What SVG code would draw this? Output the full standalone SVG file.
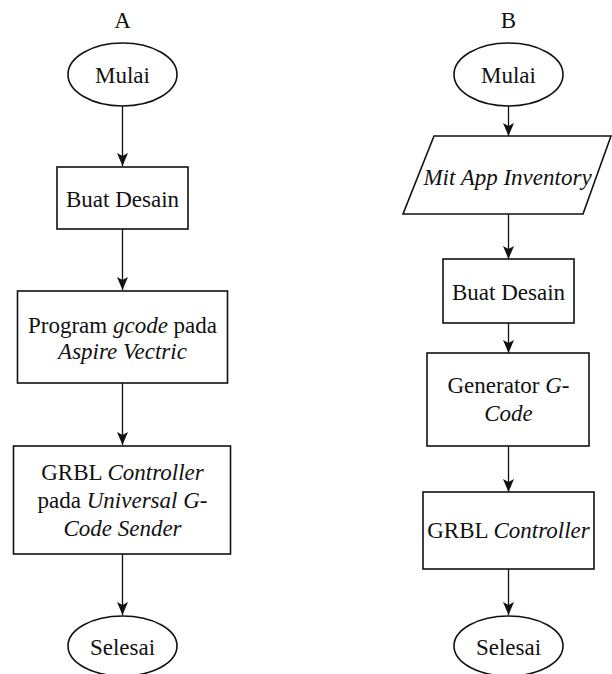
<svg xmlns="http://www.w3.org/2000/svg" width="612" height="674" viewBox="0 0 612 674">
<style>
text{font-size:23px;fill:#111;text-anchor:middle}
.i{font-style:italic}
.s{fill:#fff;stroke:#111;stroke-width:1.6}
.c{stroke:#111;stroke-width:1.3;fill:none}
</style>
<defs>
<marker id="ah" markerWidth="13" markerHeight="11" refX="13" refY="5.5" orient="auto" markerUnits="userSpaceOnUse" viewBox="0 0 13 11">
<path d="M0,0 L13,5.5 L0,11 L3,5.5 Z" fill="#111"/>
</marker>
</defs>
<rect width="612" height="674" fill="#fff"/>
<g font-family="'Liberation Serif', 'Times New Roman', Times, serif">
<text x="122.5" y="28">A</text>
<text x="508.5" y="28">B</text>
<g id="connectors">
<path class="c" d="M122.5,106 V166" marker-end="url(#ah)"/>
<path class="c" d="M122.5,229 V290" marker-end="url(#ah)"/>
<path class="c" d="M122.5,383 V445" marker-end="url(#ah)"/>
<path class="c" d="M122.5,554 V615" marker-end="url(#ah)"/>
<path class="c" d="M508.5,106 V136" marker-end="url(#ah)"/>
<path class="c" d="M508.5,214 V259" marker-end="url(#ah)"/>
<path class="c" d="M508.5,323 V353" marker-end="url(#ah)"/>
<path class="c" d="M508.5,446 V492" marker-end="url(#ah)"/>
<path class="c" d="M508.5,569 V615" marker-end="url(#ah)"/>
</g>
<g id="a-start">
<ellipse class="s" cx="122.5" cy="74.5" rx="54.5" ry="31.5"/>
<text x="122.5" y="83">Mulai</text>
</g>
<g id="a-design">
<rect class="s" x="57" y="167" width="131" height="62"/>
<text x="122.5" y="207">Buat Desain</text>
</g>
<g id="a-gcode">
<rect class="s" x="17.5" y="291" width="210" height="92"/>
<text x="122.5" y="333">Program <tspan class="i">gcode</tspan> pada</text>
<text x="122.5" y="359" class="i">Aspire Vectric</text>
</g>
<g id="a-grbl">
<rect class="s" x="13.5" y="446" width="217" height="108"/>
<text x="122.5" y="480">GRBL <tspan class="i">Controller</tspan></text>
<text x="122.5" y="508">pada <tspan class="i">Universal G-</tspan></text>
<text x="122.5" y="536" class="i">Code Sender</text>
</g>
<g id="a-end">
<ellipse class="s" cx="122.5" cy="646" rx="54.5" ry="30"/>
<text x="122.5" y="655">Selesai</text>
</g>
<g id="b-start">
<ellipse class="s" cx="508.5" cy="74.5" rx="54.5" ry="31.5"/>
<text x="508.5" y="83">Mulai</text>
</g>
<g id="b-input">
<polygon class="s" points="434,136 611,136 583,214 403,214"/>
<text x="507.5" y="185" class="i">Mit App Inventory</text>
</g>
<g id="b-design">
<rect class="s" x="443" y="259" width="131" height="64"/>
<text x="508.5" y="300">Buat Desain</text>
</g>
<g id="b-generator">
<rect class="s" x="427" y="353" width="162" height="93"/>
<text x="508.5" y="393">Generator <tspan class="i">G-</tspan></text>
<text x="508.5" y="421" class="i">Code</text>
</g>
<g id="b-grbl">
<rect class="s" x="423" y="492" width="171" height="77"/>
<text x="508.5" y="538">GRBL <tspan class="i">Controller</tspan></text>
</g>
<g id="b-end">
<ellipse class="s" cx="508.5" cy="646" rx="54.5" ry="30"/>
<text x="508.5" y="655">Selesai</text>
</g>
</g>
</svg>
